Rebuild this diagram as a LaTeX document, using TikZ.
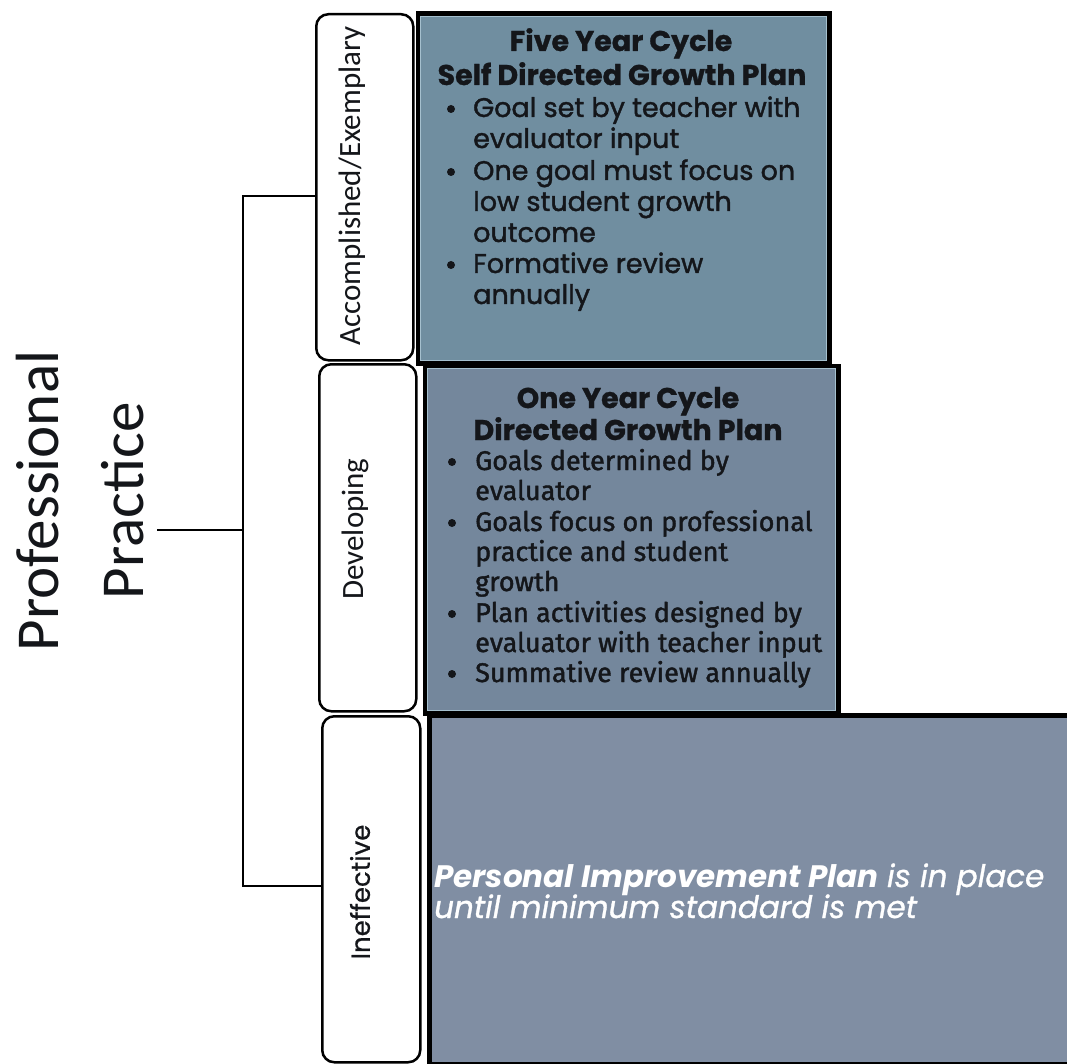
\documentclass[tikz,border=0pt]{standalone}
\usepackage{fontspec}
\newfontfamily\carl{Carlito}
\newfontfamily\popb{Poppins}[BoldFeatures={FakeBold=1}]
\newfontfamily\popm{Poppins}[FakeBold=1.5]
\newfontfamily\firab{Fira Sans}[FakeBold=1.5]
\newfontfamily\popi{Poppins}[ItalicFeatures={FakeBold=1}]
\newfontfamily\popl{Poppins}[FakeBold=0.6]
\definecolor{topfill}{RGB}{112,142,160}
\definecolor{midfill}{RGB}{116,135,156}
\definecolor{botfill}{RGB}{128,142,163}
\definecolor{ink}{RGB}{20,22,26}
\definecolor{edge}{RGB}{165,192,206}
\begin{document}
\begin{tikzpicture}[x=1pt,y=-1pt,
  cbox/.style={draw=black, line width=5pt, inner sep=0, anchor=north west},
  lbox/.style={draw=black, fill=white, line width=2.5pt, rounded corners=12pt, inner sep=0, anchor=north west},
  lbl/.style={rotate=90, inner sep=0, text=ink},
  ttl/.style={font=\popb\bfseries\fontsize{28.5}{32}\selectfont, anchor=base, inner sep=0, text=ink},
  bulA/.style={font=\popm\fontsize{27}{31}\selectfont, anchor=base west, inner sep=0, text=ink},
  bulB/.style={font=\firab\fontsize{27}{31}\selectfont, anchor=base west, inner sep=0, text=ink},
  dot/.style={circle, fill=ink, inner sep=0, minimum size=8pt},
  brack/.style={draw=black, line width=2pt},
  inner edge/.style={draw=edge, line width=1.2pt}]
\useasboundingbox (0,0) rectangle (1067,1064);
\fill[white] (0,0) rectangle (1067,1064);

% content boxes
\node[cbox, fill=topfill, minimum width=411pt, minimum height=349pt] (topc) at (415.5,11.5) {};
\node[cbox, fill=midfill, minimum width=413pt, minimum height=347pt] (midc) at (422.5,363.5) {};
\node[cbox, fill=botfill, minimum width=646pt, minimum height=349pt] (botc) at (426.5,712.5) {};
\draw[inner edge] ([shift={(5,5)}]topc.north west) rectangle ([shift={(-5,-5)}]topc.south east);
\draw[inner edge] ([shift={(5,5)}]midc.north west) rectangle ([shift={(-5,-5)}]midc.south east);

% label boxes
\node[lbox, minimum width=97pt, minimum height=346pt] (acc) at (315,13) {};
\node[lbox, minimum width=97pt, minimum height=347pt] (dev) at (318,363) {};
\node[lbox, minimum width=98pt, minimum height=346pt] (ineff) at (321,715) {};

\node[lbl, font=\carl\fontsize{31}{36}\selectfont] (acct) at (352,186) {Accomplished/Exemplary};
\node[lbl, font=\carl\fontsize{31}{36}\selectfont] (devt) at (355,529) {Developing};
\node[lbl, font=\popl\fontsize{26}{30}\selectfont] (ineft) at (360,892) {Ineffective};

% main title
\node[rotate=90, align=center, inner sep=0, text=ink, font=\carl\fontsize{61}{85}\selectfont] (pp) at (80,501) {Professional\\Practice};

% bracket
\coordinate (brk) at (243,530);
\coordinate (stub) at (157,530);
\draw[brack] ([yshift=-9pt]acc.west) -| (brk) |- ([yshift=3pt]ineff.west);
\draw[brack] (stub) -- (brk);

% top box text
\node[ttl] (t1) at (621,51) {Five Year Cycle};
\node[ttl] (t2) at (622,85) {Self Directed Growth Plan};
\foreach \yy/\tx [count=\i] in {117/Goal set by teacher with, 148/evaluator input, 180/One goal must focus on, 211/low student growth, 242/outcome, 273/Formative review, 304/annually}
  \node[bulA] (a\i) at (473,\yy) {\tx};
\foreach \yy [count=\i] in {117,180,273}
  \node[dot] (ad\i) at (451,\yy-8) {};

% middle box text
\node[ttl] (m1) at (628,408) {One Year Cycle};
\node[ttl] (m2) at (628,440) {Directed Growth Plan};
\foreach \yy/\tx [count=\i] in {470/Goals determined by, 500/evaluator, 531/Goals focus on professional, 561/practice and student, 591/growth, 622/Plan activities designed by, 652/evaluator with teacher input, 682/Summative review annually}
  \node[bulB] (b\i) at (475,\yy) {\tx};
\foreach \yy [count=\i] in {470,531,622,682}
  \node[dot] (bd\i) at (452,\yy-8) {};

% bottom box text
\node[anchor=base west, inner sep=0, text=white, font=\popi\fontsize{31}{35}\selectfont] (p1) at (434,887) {\textbf{\textit{Personal Improvement Plan}} \textit{is in place}};
\node[anchor=base west, inner sep=0, text=white, font=\popi\fontsize{31}{35}\selectfont] (p2) at (434,918) {\textit{until minimum standard is met}};
\end{tikzpicture}
\end{document}
